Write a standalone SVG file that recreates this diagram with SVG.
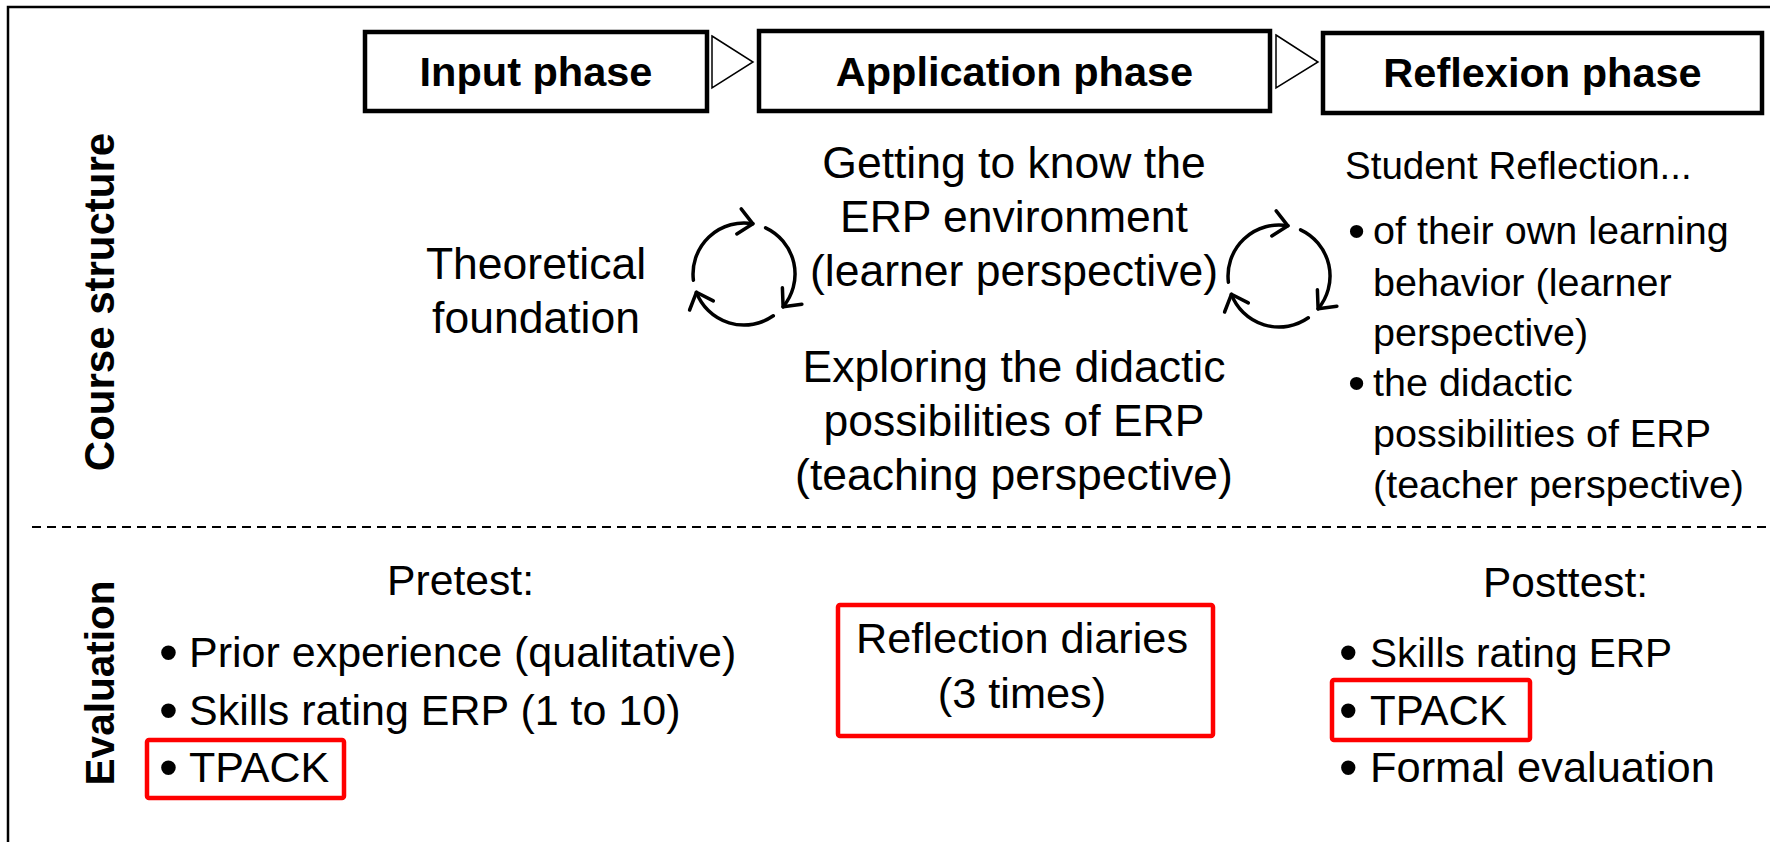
<svg xmlns="http://www.w3.org/2000/svg" width="1770" height="842" viewBox="0 0 1770 842">
  <style>
    text { font-family: "Liberation Sans", Arial, sans-serif; fill: #000; }
    .phase { font-weight: bold; font-size: 41.5px; text-anchor: middle; }
    .side { font-weight: bold; text-anchor: middle; }
    .mid { font-size: 44.5px; text-anchor: middle; }
    .rc { font-size: 39.5px; }
    .rcb { font-size: 49px; }
    .ev { font-size: 43px; }
    .evb { font-size: 54px; }
    .evr { font-size: 42px; }
    .evrb { font-size: 53px; }
    .box { fill: #fff; stroke: #000; stroke-width: 4.5; }
    .red { fill: none; stroke: #ff0000; stroke-width: 4.5; }
    .tri { fill: #fff; stroke: #000; stroke-width: 1.5; stroke-linejoin: miter; }
    .cyc { fill: none; stroke: #000; stroke-width: 3.5; stroke-linecap: round; stroke-linejoin: round; }
    .frame { fill: none; stroke: #000; stroke-width: 2.5; }
    .sep { stroke: #000; stroke-width: 2; stroke-dasharray: 9 6; }
  </style>
  <defs>
    <!-- three-arc cycle symbol, centred on 0,0 -->
    <g id="cycle" class="cyc">
      <path d="M -50.6 6.2 A 51 51 0 0 1 8.9 -50.2"/>
      <path d="M -7.2 -40.1 L 8.9 -50.2 L -2.8 -65.2"/>
      <path d="M 21.6 -46.2 A 51 51 0 0 1 39.1 32.8"/>
      <path d="M 38.4 13.8 L 39.1 32.8 L 57.9 30.2"/>
      <path d="M 29.3 41.8 A 51 51 0 0 1 -47.6 18.3"/>
      <path d="M -30.7 26.9 L -47.6 18.3 L -54.4 36.0"/>
    </g>
  </defs>

  <rect x="0" y="0" width="1770" height="842" fill="#fff"/>

  <!-- frame and section separator -->
  <g id="frame">
    <path class="frame" d="M 8 842 L 8 7 L 1770 7"/>
    <line class="sep" x1="32" y1="527" x2="1770" y2="527"/>
  </g>

  <!-- row labels -->
  <g id="label-course">
    <text class="side" font-size="42" transform="translate(114 302) rotate(-90)">Course structure</text>
  </g>
  <g id="label-evaluation">
    <text class="side" font-size="40.5" transform="translate(114 683) rotate(-90)">Evaluation</text>
  </g>

  <!-- phase headers -->
  <g id="phase-input">
    <rect class="box" x="365" y="32" width="342" height="79"/>
    <text class="phase" x="536" y="86">Input phase</text>
  </g>
  <g id="phase-application">
    <rect class="box" x="759" y="31" width="511" height="80"/>
    <text class="phase" x="1014.5" y="86">Application phase</text>
  </g>
  <g id="phase-reflexion">
    <rect class="box" x="1323" y="33" width="439" height="80"/>
    <text class="phase" x="1542.5" y="87">Reflexion phase</text>
  </g>

  <!-- course structure content -->
  <g id="theory">
    <text class="mid" x="536" y="279">Theoretical</text>
    <text class="mid" x="536" y="333">foundation</text>
  </g>
  <g id="application-content">
    <text class="mid" x="1014" y="178">Getting to know the</text>
    <text class="mid" x="1014" y="232">ERP environment</text>
    <text class="mid" x="1014" y="286">(learner perspective)</text>
    <text class="mid" x="1014" y="382">Exploring the didactic</text>
    <text class="mid" x="1014" y="436">possibilities of ERP</text>
    <text class="mid" x="1014" y="490">(teaching perspective)</text>
  </g>
  <g id="reflection-content">
    <text x="1345" y="179" font-size="38.5">Student Reflection...</text>
    <text class="rcb" x="1348" y="247">•</text>
    <text class="rc" x="1373" y="244">of their own learning</text>
    <text class="rc" x="1373" y="296">behavior (learner</text>
    <text class="rc" x="1373" y="346">perspective)</text>
    <text class="rcb" x="1348" y="399">•</text>
    <text class="rc" x="1373" y="396">the didactic</text>
    <text class="rc" x="1373" y="447">possibilities of ERP</text>
    <text class="rc" x="1373" y="498">(teacher perspective)</text>
  </g>

  <!-- evaluation content -->
  <g id="pretest">
    <text x="460.5" y="595" font-size="42.7" text-anchor="middle">Pretest:</text>
    <text class="evb" x="159" y="671">•</text>
    <text class="ev" x="189" y="667">Prior experience (qualitative)</text>
    <text class="evb" x="159" y="729">•</text>
    <text class="ev" x="189" y="725">Skills rating ERP (1 to 10)</text>
    <rect class="red" x="147" y="740" width="197" height="58" rx="2"/>
    <text class="evb" x="159" y="786">•</text>
    <text class="ev" x="189" y="782">TPACK</text>
  </g>
  <g id="diaries">
    <rect class="red" x="838" y="605" width="375" height="131" rx="2"/>
    <text x="1022" y="653" font-size="43.3" text-anchor="middle">Reflection diaries</text>
    <text x="1022" y="708" font-size="43.3" text-anchor="middle">(3 times)</text>
  </g>
  <g id="posttest">
    <text x="1565.5" y="597" font-size="42.4" text-anchor="middle">Posttest:</text>
    <text class="evrb" x="1339" y="671">•</text>
    <text x="1370" y="667" font-size="40.6">Skills rating ERP</text>
    <rect class="red" x="1332" y="680" width="198" height="60" rx="2"/>
    <text class="evrb" x="1339" y="729">•</text>
    <text class="evr" x="1370" y="725">TPACK</text>
    <text class="evrb" x="1339" y="786">•</text>
    <text x="1370" y="782" font-size="43.4">Formal evaluation</text>
  </g>

  <!-- connectors: phase arrows and iteration cycles -->
  <g id="connectors">
    <polygon class="tri" points="712,36 753,62 712,88"/>
    <polygon class="tri" points="1276,35 1318,62 1276,88"/>
    <use href="#cycle" x="744" y="274"/>
    <use href="#cycle" x="1279" y="276"/>
  </g>
</svg>
